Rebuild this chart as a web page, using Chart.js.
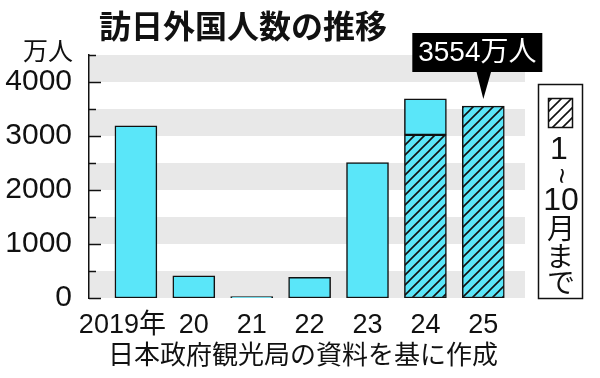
<!DOCTYPE html>
<html lang="ja">
<head>
<meta charset="utf-8">
<script src="https://cdn.jsdelivr.net/npm/chart.js@4.4.1/dist/chart.umd.min.js"></script>
<style>
  html, body { margin: 0; padding: 0; background: #fff; }
  #wrap { width: 600px; height: 378px; }
</style>
</head>
<body>
<div id="wrap"><canvas id="visitors-chart" width="600" height="378"></canvas></div>
<script>
const years = ['2019年', '20', '21', '22', '23', '24', '25'];
const annualTotal = [3188, 412, 25, 383, 2507, 3687, null];
const janToOct = [null, null, null, null, null, 3020, 3554];
const yLabels = [0, 1000, 2000, 3000, 4000];

const CYAN = '#5ae6f9';
const INK = '#111';
const BAND = '#e8e8e8';
const DIGITS = "'Liberation Sans', 'Noto Sans CJK JP', sans-serif";
const JP = "'Noto Sans CJK JP', sans-serif";

const canvas = document.getElementById('visitors-chart');
const ctx = canvas.getContext('2d');

function makeHatch(bg) {
  const size = 10;
  const tile = document.createElement('canvas');
  tile.width = size;
  tile.height = size;
  const g = tile.getContext('2d');
  g.fillStyle = bg;
  g.fillRect(0, 0, size, size);
  g.strokeStyle = INK;
  g.lineWidth = 1.6;
  g.beginPath();
  g.moveTo(-1, size + 1);
  g.lineTo(size + 1, -1);
  g.moveTo(-2, 2);
  g.lineTo(2, -2);
  g.moveTo(size - 2, size + 2);
  g.lineTo(size + 2, size - 2);
  g.stroke();
  return ctx.createPattern(tile, 'repeat');
}

// solid part only shows what is above the Jan-Oct figure
const restOfYear = annualTotal.map((v, i) => v == null ? null : v - (janToOct[i] || 0));

const bandsPlugin = {
  id: 'bands',
  beforeDraw(chart) {
    const {ctx, chartArea, scales: {y}} = chart;
    ctx.save();
    ctx.fillStyle = BAND;
    for (let v = 0; v < y.max; v += 1000) {
      const top = y.getPixelForValue(v + 500);
      const bottom = y.getPixelForValue(v);
      ctx.fillRect(chartArea.left, top, chartArea.right - chartArea.left, bottom - top);
    }
    ctx.restore();
  }
};

const decorPlugin = {
  id: 'decor',
  afterDraw(chart) {
    const {ctx, chartArea, scales: {x, y}} = chart;
    ctx.save();

    // tick marks point into the plot
    ctx.strokeStyle = INK;
    ctx.lineWidth = 1.5;
    for (let v = 0; v <= y.max; v += 500) {
      const py = Math.round(y.getPixelForValue(v)) + 0.5;
      const len = v % 1000 === 0 ? 12 : 7;
      ctx.beginPath();
      ctx.moveTo(chartArea.left, py);
      ctx.lineTo(chartArea.left + len, py);
      ctx.stroke();
    }

    // title, unit, source
    ctx.fillStyle = INK;
    ctx.textBaseline = 'middle';
    ctx.textAlign = 'left';
    ctx.font = `bold 32px ${JP}`;
    ctx.fillText('訪日外国人数の推移', 99, 26);
    ctx.font = `25px ${JP}`;
    ctx.textAlign = 'center';
    ctx.fillText('万人', 48, 50);
    ctx.font = `26px ${JP}`;
    ctx.fillText('日本政府観光局の資料を基に作成', 303, 354);

    // callout for 2025
    const last = janToOct.length - 1;
    const px = x.getPixelForValue(last);
    const py = y.getPixelForValue(janToOct[last]);
    ctx.fillStyle = '#000';
    ctx.fillRect(px - 71, 33, 130, 39);
    ctx.beginPath();
    ctx.moveTo(px - 7, 71);
    ctx.lineTo(px + 8, 71);
    ctx.lineTo(px, py - 7);
    ctx.closePath();
    ctx.fill();
    ctx.fillStyle = '#fff';
    ctx.font = `28px ${DIGITS}`;
    ctx.fillText(`${janToOct[last]}万人`, px - 6, 53);

    // legend box
    ctx.fillStyle = '#fff';
    ctx.fillRect(538, 84, 44, 214);
    ctx.strokeStyle = INK;
    ctx.lineWidth = 1.5;
    ctx.strokeRect(538.5, 84.5, 44, 214);
    ctx.fillStyle = makeHatch('#fff');
    ctx.fillRect(548, 98, 24, 29);
    ctx.strokeRect(548.5, 98.5, 24, 29);

    ctx.fillStyle = INK;
    ctx.font = `32px 'Liberation Sans Narrow', ${DIGITS}`;
    ctx.fillText('1', 559, 150);
    ctx.fillText('10', 561, 201);
    ctx.save();
    ctx.translate(560, 176);
    ctx.rotate(Math.PI / 2);
    ctx.font = `28px ${DIGITS}`;
    ctx.fillText('~', 0, 0);
    ctx.restore();
    ctx.font = `28px ${JP}`;
    ctx.fillText('月', 561, 228);
    ctx.fillText('ま', 560, 256);
    ctx.fillText('で', 561, 282);

    ctx.restore();
  }
};

const toPoints = arr => arr.map((v, i) => ({x: i, y: v}));

new Chart(ctx, {
  type: 'bar',
  data: {
    datasets: [
      {
        label: '1~10月',
        data: toPoints(janToOct),
        backgroundColor: makeHatch(CYAN),
        borderColor: INK,
        borderWidth: 1.5,
        borderSkipped: false
      },
      {
        label: '年間',
        data: toPoints(restOfYear),
        backgroundColor: CYAN,
        borderColor: INK,
        borderWidth: 1.5,
        borderSkipped: false
      }
    ]
  },
  options: {
    responsive: false,
    animation: false,
    layout: {
      padding: {top: 55, right: 75, left: 0, bottom: 0}
    },
    datasets: {
      bar: {barThickness: 42}
    },
    scales: {
      x: {
        type: 'linear',
        stacked: true,
        offset: false,
        min: -0.81,
        max: 6.72,
        grid: {display: false},
        border: {display: false},
        afterBuildTicks: scale => {
          scale.ticks = years.map((_, i) => ({value: i}));
        },
        afterFit: scale => {
          scale.height = 80;
        },
        ticks: {
          autoSkip: false,
          maxRotation: 0,
          padding: 3,
          color: INK,
          font: {family: DIGITS, size: 27},
          // the first label sits a little left of its bar, like the original
          callback: value => value === 0 ? years[value] + '\u2003' : years[value]
        }
      },
      y: {
        stacked: true,
        min: 0,
        max: 4500,
        grid: {display: false},
        border: {display: true, color: INK, width: 1.5},
        afterBuildTicks: scale => {
          scale.ticks = yLabels.map(v => ({value: v}));
        },
        afterFit: scale => {
          scale.width = 89;
        },
        ticks: {
          padding: 9,
          color: INK,
          font: {family: DIGITS, size: 30},
          callback: value => String(value)
        }
      }
    },
    plugins: {
      legend: {display: false},
      tooltip: {enabled: false}
    }
  },
  plugins: [bandsPlugin, decorPlugin]
});
</script>
</body>
</html>
